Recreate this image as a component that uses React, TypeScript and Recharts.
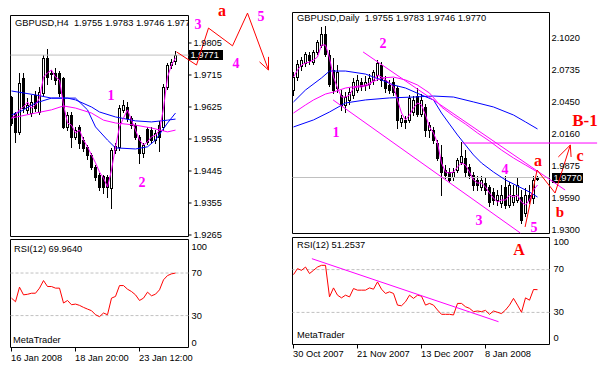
import React from 'react';
import { ComposedChart, Bar, Line, XAxis, YAxis, ReferenceLine, ReferenceArea } from 'recharts';

// ---------------- H4 chart data ----------------
const h4Open = [1.9653,1.9608,1.9555,1.9707,1.9617,1.9608,1.9659,1.9611,1.9665,1.9763,1.9722,1.9720,1.9721,1.9707,1.9569,1.9603,1.9541,1.9569,1.9532,1.9512,1.9490,1.9456,1.9434,1.9431,1.9428,1.9397,1.9504,1.9513,1.9617,1.9625,1.9594,1.9574,1.9541,1.9496,1.9563,1.9560,1.9532,1.9574,1.9569,1.9681,1.9743,1.9755];
const h4High = [1.9655,1.9610,1.9721,1.9721,1.9650,1.9660,1.9670,1.9680,1.9770,1.9788,1.9730,1.9735,1.9727,1.9710,1.9610,1.9610,1.9568,1.9575,1.9540,1.9518,1.9495,1.9462,1.9440,1.9434,1.9435,1.9510,1.9525,1.9630,1.9645,1.9640,1.9600,1.9580,1.9546,1.9525,1.9570,1.9568,1.9560,1.9585,1.9690,1.9750,1.9760,1.9783];
const h4Low = [1.9574,1.9527,1.9550,1.9610,1.9608,1.9600,1.9615,1.9605,1.9660,1.9690,1.9705,1.9690,1.9655,1.9565,1.9560,1.9513,1.9535,1.9510,1.9500,1.9480,1.9450,1.9420,1.9392,1.9383,1.9372,1.9341,1.9495,1.9505,1.9610,1.9585,1.9565,1.9535,1.9468,1.9485,1.9520,1.9525,1.9525,1.9500,1.9560,1.9675,1.9735,1.9746];
const h4Close = [1.9580,1.9555,1.9693,1.9622,1.9631,1.9639,1.9622,1.9667,1.9763,1.9710,1.9718,1.9701,1.9664,1.9569,1.9603,1.9541,1.9560,1.9524,1.9510,1.9490,1.9456,1.9428,1.9400,1.9400,1.9400,1.9504,1.9515,1.9622,1.9631,1.9594,1.9574,1.9541,1.9496,1.9518,1.9527,1.9532,1.9552,1.9541,1.9681,1.9743,1.9752,1.9771];
const h4MaFast = [1.9594,1.9603,1.9617,1.9625,1.9639,1.9622,1.9631,1.9650,1.9709,1.9721,1.9729,1.9709,1.9701,1.9631,1.9580,1.9574,1.9552,1.9560,1.9532,1.9513,1.9490,1.9468,1.9442,1.9425,1.9400,1.9448,1.9513,1.9569,1.9594,1.9617,1.9588,1.9560,1.9532,1.9518,1.9527,1.9541,1.9546,1.9560,1.9622,1.9709,1.9743,1.9763];
const h4MaSlow: [number, number][] = [[0,1.9594],[6,1.9608],[10,1.9617],[13,1.9628],[16,1.9622],[20,1.9608],[23,1.9588],[26,1.9580],[31,1.9574],[35,1.9566],[39,1.9555],[41,1.9560]];
const h4MaBlueLong: [number, number][] = [[0,1.9670],[6,1.9659],[10,1.9650],[14,1.9650],[16,1.9645],[20,1.9625],[22,1.9611],[26,1.9597],[31,1.9586],[35,1.9583],[39,1.9588],[41,1.9591]];
const h4MaBlueMid: [number, number][] = [[0,1.9603],[2,1.9611],[6,1.9636],[10,1.9650],[13,1.9650],[16,1.9650],[19,1.9617],[21,1.9569],[24,1.9532],[26,1.9510],[31,1.9507],[34,1.9513],[36,1.9532],[39,1.9580],[41,1.9608]];
const h4Rsi = [46.4,43,56.7,49.5,50,51,51,55.8,62.9,57.3,57.3,55.8,55.8,41.8,44.2,40.2,40.8,39.6,37.7,36.1,34.6,30.8,29,32.4,30.8,46.4,48,58.2,58.2,54.8,52.6,49.5,44.2,46.4,52,48.6,50.1,54.2,63.6,67.6,69.2,69.96];
const h4PriceTicks = [1.9265,1.9355,1.9445,1.9535,1.9625,1.9715,1.9805];
const h4DateTicks = [0,16,32];
const h4DateLabels = ['16 Jan 2008','18 Jan 20:00','23 Jan 12:00'];
const h4Last = 1.9771;
const h4Wave: [number, number][] = [[41.25,1.9780],[46.25,1.9743],[49.25,1.9847],[55.25,1.9797],[59,1.9889],[64.25,1.9729]];
const h4ArrowHead: [number, number][] = [[62,1.9752],[64.25,1.9729],[64.25,1.9766]];

// ---------------- Daily chart data ----------------
const dOpen = [2.0554,2.0670,2.0769,2.0796,2.0868,2.0805,2.0895,2.0957,2.1056,2.0868,2.0733,2.0572,2.0509,2.0420,2.0465,2.0509,2.0554,2.0626,2.0599,2.0608,2.0644,2.0688,2.0778,2.0644,2.0599,2.0626,2.0572,2.0268,2.0286,2.0286,2.0357,2.0500,2.0339,2.0402,2.0196,2.0196,2.0079,1.9954,1.9837,1.9819,1.9775,1.9837,1.9909,1.9945,1.9864,1.9792,1.9748,1.9685,1.9721,1.9685,1.9640,1.9568,1.9541,1.9685,1.9524,1.9550,1.9568,1.9595,1.9452,1.9613,1.9586,1.9755];
const dHigh = [2.0715,2.0823,2.0850,2.0895,2.0895,2.0912,2.1002,2.1119,2.1128,2.0912,2.0841,2.0778,2.0554,2.0536,2.0572,2.0662,2.0688,2.0662,2.0679,2.0697,2.0733,2.0823,2.0805,2.0679,2.0644,2.0662,2.0590,2.0330,2.0321,2.0509,2.0500,2.0572,2.0518,2.0429,2.0268,2.0223,2.0106,2.0061,1.9882,1.9855,1.9855,1.9945,2.0088,2.0016,1.9891,1.9819,1.9784,1.9784,1.9766,1.9703,1.9676,1.9658,1.9703,1.9784,1.9730,1.9703,1.9766,1.9658,1.9676,1.9703,1.9784,1.9783];
const dLow = [2.0509,2.0644,2.0733,2.0769,2.0787,2.0787,2.0877,2.0939,2.0859,2.0590,2.0527,2.0536,2.0375,2.0357,2.0429,2.0483,2.0536,2.0554,2.0554,2.0572,2.0608,2.0644,2.0590,2.0536,2.0527,2.0509,2.0214,2.0232,2.0214,2.0268,2.0330,2.0321,2.0321,2.0142,2.0133,2.0079,1.9927,1.9613,1.9766,1.9730,1.9748,1.9819,1.9891,1.9784,1.9766,1.9658,1.9658,1.9658,1.9622,1.9515,1.9533,1.9524,1.9506,1.9497,1.9506,1.9524,1.9550,1.9363,1.9425,1.9541,1.9541,1.9746];
const dClose = [2.0670,2.0787,2.0823,2.0877,2.0823,2.0895,2.0984,2.1056,2.0877,2.0608,2.0554,2.0715,2.0420,2.0491,2.0536,2.0626,2.0644,2.0590,2.0626,2.0662,2.0715,2.0796,2.0644,2.0572,2.0554,2.0536,2.0286,2.0304,2.0268,2.0483,2.0465,2.0339,2.0465,2.0196,2.0241,2.0106,1.9945,1.9819,1.9792,1.9748,1.9819,1.9927,1.9963,1.9819,1.9792,1.9703,1.9703,1.9748,1.9658,1.9550,1.9568,1.9613,1.9613,1.9524,1.9703,1.9613,1.9703,1.9390,1.9613,1.9568,1.9748,1.9770];
const dMaFast = [2.0670,2.0733,2.0778,2.0796,2.0805,2.0823,2.0850,2.0957,2.0957,2.0841,2.0670,2.0572,2.0491,2.0491,2.0509,2.0572,2.0581,2.0581,2.0590,2.0599,2.0644,2.0688,2.0670,2.0644,2.0617,2.0581,2.0465,2.0348,2.0286,2.0330,2.0393,2.0438,2.0420,2.0330,2.0223,2.0169,2.0079,1.9900,1.9819,1.9810,1.9819,1.9864,1.9900,1.9882,1.9819,1.9748,1.9721,1.9721,1.9685,1.9631,1.9586,1.9550,1.9568,1.9568,1.9613,1.9595,1.9613,1.9550,1.9524,1.9568,1.9658,1.9703];
const dMaSlow: [number, number][] = [[0,2.0348],[3,2.0420],[5,2.0465],[8,2.0518],[10,2.0536],[13,2.0572],[18,2.0599],[22,2.0662],[25,2.0670],[28,2.0644],[31,2.0599],[34,2.0527],[37,2.0402],[40,2.0321],[43,2.0249],[46,2.0169],[49,2.0097],[52,2.0016],[55,1.9945],[58,1.9882],[61,1.9819]];
const dMaBlueLong: [number, number][] = [[0,2.0223],[5,2.0286],[9,2.0357],[13,2.0438],[18,2.0465],[24,2.0483],[30,2.0491],[35,2.0500],[40,2.0491],[45,2.0447],[50,2.0402],[55,2.0330],[58,2.0268],[61,2.0205]];
const dMaBlueMid: [number, number][] = [[0,2.0447],[3,2.0554],[7,2.0662],[9,2.0724],[13,2.0724],[18,2.0697],[22,2.0644],[25,2.0599],[28,2.0572],[32,2.0509],[35,2.0465],[37,2.0348],[39,2.0249],[41,2.0151],[43,2.0061],[45,1.9972],[47,1.9900],[50,1.9819],[53,1.9748],[56,1.9694],[59,1.9640],[61,1.9595]];
const dRsi = [65.3,70.9,69.3,72.4,66.3,69.3,72.4,74,74,44.5,52.9,46.1,43.6,46.1,44.5,52.3,50.8,50.8,50.8,52.9,51.7,58.5,51.7,47.7,49.2,47.7,36.8,36.2,39.9,46.1,43.1,46.1,45.2,36.8,38.4,36.8,32.2,28.2,28.2,28.2,27.6,38.4,38.4,35.3,33.8,30.7,31.3,30.7,31.9,28.2,31.3,30.1,28.9,32.2,36.8,43.1,36.8,30.1,43.6,41.4,51.4,51.25];
const dPriceTicks = [1.9300,1.9590,1.9875,2.0160,2.0450,2.0735,2.1020];
const dDateTicks = [0,16,32,48];
const dDateLabels = ['30 Oct 2007','21 Nov 2007','13 Dec 2007','8 Jan 2008'];
const dLast = 1.9770;
const dChannelTop: [number, number][] = [[17.4,2.0895],[67.9,1.9658]];
const dChannelBottom: [number, number][] = [[9.9,2.0465],[56.7,1.9273]];
const dLevel: [number, number][] = [[42.2,2.0079],[75.9,2.0079]];
const dWave: [number, number][] = [[57.9,1.9327],[60.9,1.9837],[65.4,1.9631],[69.2,2.0061]];
const dArrowHead: [number, number][] = [[66.2,1.9954],[69.2,2.0061],[69.4,1.9954]];
const dRsiTrend: [number, number][] = [[4.6,80.2],[51.25,21.3]];

const rsiTicks = [0,30,70,100];

// ---------------- helpers ----------------
const FONT = '"Liberation Sans", Arial, sans-serif';
const FS = 9.3;
const MAG = '#ff00ff';
const RED = '#ff0000';
const BLUE = '#0000ff';

function sparse(pairs: [number, number][], i: number) {
  const f = pairs.find((p) => p[0] === i);
  return f ? f[1] : null;
}

function buildRows(o: number[], h: number[], l: number[], c: number[], fast: number[], slow: [number, number][], b1: [number, number][], b2: [number, number][], rsi: number[]) {
  return o.map((v, i) => ({
    i, open: v, high: h[i], low: l[i], close: c[i],
    fast: fast[i], slow: sparse(slow, i), blueLong: sparse(b1, i), blueMid: sparse(b2, i), rsi: rsi[i],
  }));
}

const h4Rows = buildRows(h4Open, h4High, h4Low, h4Close, h4MaFast, h4MaSlow, h4MaBlueLong, h4MaBlueMid, h4Rsi);
const dRows = buildRows(dOpen, dHigh, dLow, dClose, dMaFast, dMaSlow, dMaBlueLong, dMaBlueMid, dRsi);

const Candle = (props: any) => {
  const { x, y, width, height, payload } = props;
  if (x == null || y == null || !payload) return null;
  const top = Math.min(y, y + height);
  const span = Math.abs(height);
  const { open, high, low, close } = payload;
  const toY = (p: number) => (high === low ? top : top + ((high - p) / (high - low)) * span);
  const col = Math.floor(x + width / 2);
  const cx = col + 0.5;
  const yTop = Math.round(top);
  const yBot = Math.round(top + span);
  const bo = Math.round(toY(open));
  const bc = Math.round(toY(close));
  const b1 = Math.min(bo, bc);
  const b2 = Math.max(bo, bc);
  const bull = close >= open;
  return (
    <g>
      <line x1={cx} x2={cx} y1={yTop} y2={yBot + 1} stroke="#000" strokeWidth={1} shapeRendering="crispEdges" />
      {b2 - b1 < 1 ? (
        <line x1={col - 1} x2={col + 2} y1={b1 + 0.5} y2={b1 + 0.5} stroke="#000" strokeWidth={1} shapeRendering="crispEdges" />
      ) : (
        <rect x={col - 0.5} y={b1 + 0.5} width={2} height={b2 - b1} fill={bull ? '#fff' : '#000'} stroke="#000" strokeWidth={1} shapeRendering="crispEdges" />
      )}
    </g>
  );
};

const makeYTick = (fmt: (v: number) => string, shift: Record<string, number>) => (props: any) => {
  const { x, y, payload } = props;
  const v = payload.value;
  return (
    <text x={x} y={y + (shift[String(v)] || 0)} dominantBaseline="central" textAnchor="start" fontSize={FS} fontFamily={FONT} fill="#000">
      {fmt(v)}
    </text>
  );
};

const makeXTick = (ticks: number[], labels: string[], dy: number) => (props: any) => {
  const { x, y, payload } = props;
  const idx = ticks.indexOf(payload.value);
  return (
    <text x={x - 0.5} y={y + dy} dominantBaseline="central" textAnchor="start" fontSize={FS} fontFamily={FONT} fill="#000">
      {idx >= 0 ? labels[idx] : ''}
    </text>
  );
};

const priceTag = (text: string, w: number, dx: number) => (props: any) => {
  const vb = props.viewBox || {};
  const x0 = (vb.x || 0) + (vb.width || 0) + dx;
  const yy = Math.round(vb.y || 0);
  return (
    <g>
      <rect x={x0} y={yy - 5} width={w} height={10} fill="#000" />
      <text x={x0 + 1.5} y={yy} dominantBaseline="central" fontSize={FS} fontFamily={FONT} fill="#fff">{text}</text>
    </g>
  );
};

const segLines = (pts: [number, number][], color: string, key: string) =>
  pts.slice(1).map((p, k) => (
    <ReferenceLine
      key={key + k}
      segment={[{ x: pts[k][0], y: pts[k][1] }, { x: p[0], y: p[1] }]}
      stroke={color}
      strokeWidth={1}
      ifOverflow="visible"
    />
  ));

const Txt = ({ x, y, children, style }: any) => (
  <div style={{ position: 'absolute', left: x, top: y, transform: 'translateY(-50%)', fontFamily: FONT, fontSize: FS, lineHeight: 1, whiteSpace: 'pre', color: '#000', ...style }}>
    {children}
  </div>
);

const Note = ({ x, y, text, color, size }: any) => (
  <div style={{ position: 'absolute', left: x, top: y, transform: 'translate(-50%,-50%)', fontFamily: '"Liberation Serif", "Times New Roman", serif', fontWeight: 'bold', fontSize: size, lineHeight: 1, color, whiteSpace: 'nowrap' }}>
    {text}
  </div>
);

const H4_X: [number, number] = [-0.25, 44.25];
const H4_Y: [number, number] = [1.926078, 1.988234];
const D_X: [number, number] = [-0.25, 64];
const D_Y: [number, number] = [1.926834, 2.12485];

export default function App() {
  return (
    <div style={{ position: 'absolute', left: 0, top: 0, width: 600, height: 371, background: '#fff', overflow: 'hidden' }}>
      {/* H4 main */}
      <div style={{ position: 'absolute', left: 0, top: 0 }}>
        <ComposedChart width={280} height={240} data={h4Rows} margin={{ top: 15.5, left: 10.5, right: 51.5, bottom: 3.5 }}>
          <XAxis type="number" dataKey="i" domain={H4_X} hide allowDataOverflow />
          <YAxis orientation="right" type="number" domain={H4_Y} ticks={h4PriceTicks} interval={0} width={40} axisLine={false}
            tickLine={{ stroke: '#000' }} tickSize={3} tickMargin={2} allowDataOverflow
            tick={makeYTick((v) => v.toFixed(4), {})} />
          <ReferenceArea x1={H4_X[0]} x2={H4_X[1]} y1={H4_Y[0]} y2={H4_Y[1]} fill="none" fillOpacity={0} stroke="#000" strokeWidth={1} ifOverflow="visible" />
          <ReferenceLine y={h4Last} stroke="#c0c0c0" strokeWidth={1} label={priceTag('1.9771', 34, 0.5)} />
          <Bar dataKey={(d: any) => [d.low, d.high]} shape={<Candle />} barSize={3} isAnimationActive={false} />
          <Line dataKey="blueLong" stroke={BLUE} strokeWidth={1} dot={false} connectNulls isAnimationActive={false} />
          <Line dataKey="blueMid" stroke={BLUE} strokeWidth={1} dot={false} connectNulls isAnimationActive={false} />
          <Line dataKey="slow" stroke={MAG} strokeWidth={1} dot={false} connectNulls isAnimationActive={false} />
          <Line dataKey="fast" stroke={MAG} strokeWidth={1} dot={false} connectNulls isAnimationActive={false} />
          {segLines(h4Wave, RED, 'h4w')}
          {segLines(h4ArrowHead, RED, 'h4a')}
        </ComposedChart>
      </div>

      {/* H4 RSI */}
      <div style={{ position: 'absolute', left: 0, top: 236 }}>
        <ComposedChart width={280} height={135} data={h4Rows} margin={{ top: 3.5, left: 10.5, right: 51.5, bottom: 3.5 }}>
          <XAxis type="number" dataKey="i" domain={H4_X} ticks={h4DateTicks} interval={0} axisLine={false} height={20}
            tickLine={{ stroke: '#000' }} tickSize={4} tickMargin={2} allowDataOverflow
            tick={makeXTick(h4DateTicks, h4DateLabels, 4.8)} />
          <YAxis orientation="right" type="number" domain={[0, 101.5]} ticks={rsiTicks} interval={0} width={40} axisLine={false}
            tickLine={false} tickSize={0} tickMargin={3} allowDataOverflow
            tick={makeYTick((v) => String(v), { '100': 6, '0': -5 })} />
          <ReferenceArea x1={H4_X[0]} x2={H4_X[1]} y1={0} y2={101.5} fill="none" fillOpacity={0} stroke="#000" strokeWidth={1} ifOverflow="visible" />
          <ReferenceLine y={70} stroke="#c0c0c0" strokeDasharray="3 2" />
          <ReferenceLine y={30} stroke="#c0c0c0" strokeDasharray="3 2" />
          <Line dataKey="rsi" stroke={RED} strokeWidth={1} dot={false} isAnimationActive={false} />
        </ComposedChart>
      </div>

      {/* Daily main */}
      <div style={{ position: 'absolute', left: 280, top: 0 }}>
        <ComposedChart width={320} height={240} data={dRows} margin={{ top: 12.5, left: 12.5, right: 10.5, bottom: 6.5 }}>
          <XAxis type="number" dataKey="i" domain={D_X} hide allowDataOverflow />
          <YAxis orientation="right" type="number" domain={D_Y} ticks={dPriceTicks} interval={0} width={40} axisLine={false}
            tickLine={false} tickSize={0} tickMargin={2} allowDataOverflow
            tick={makeYTick((v) => v.toFixed(4), {})} />
          <ReferenceArea x1={D_X[0]} x2={D_X[1]} y1={D_Y[0]} y2={D_Y[1]} fill="none" fillOpacity={0} stroke="#000" strokeWidth={1} ifOverflow="visible" />
          <ReferenceLine y={dLast} stroke="#c0c0c0" strokeWidth={1} label={priceTag('1.9770', 31, 2.5)} />
          <Bar dataKey={(d: any) => [d.low, d.high]} shape={<Candle />} barSize={3} isAnimationActive={false} />
          <Line dataKey="blueLong" stroke={BLUE} strokeWidth={1} dot={false} connectNulls isAnimationActive={false} />
          <Line dataKey="blueMid" stroke={BLUE} strokeWidth={1} dot={false} connectNulls isAnimationActive={false} />
          <Line dataKey="slow" stroke={MAG} strokeWidth={1} dot={false} connectNulls isAnimationActive={false} />
          <Line dataKey="fast" stroke={MAG} strokeWidth={1} dot={false} connectNulls isAnimationActive={false} />
          {segLines(dChannelTop, MAG, 'ct')}
          {segLines(dChannelBottom, MAG, 'cb')}
          {segLines(dLevel, MAG, 'lv')}
          {segLines(dWave, RED, 'dw')}
          {segLines(dArrowHead, RED, 'da')}
        </ComposedChart>
      </div>

      {/* Daily RSI */}
      <div style={{ position: 'absolute', left: 280, top: 236 }}>
        <ComposedChart width={320} height={135} data={dRows} margin={{ top: 1.5, left: 12.5, right: 10.5, bottom: 6.5 }}>
          <XAxis type="number" dataKey="i" domain={D_X} ticks={dDateTicks} interval={0} axisLine={false} height={20}
            tickLine={{ stroke: '#000' }} tickSize={4} tickMargin={2} allowDataOverflow
            tick={makeXTick(dDateTicks, dDateLabels, 3.8)} />
          <YAxis orientation="right" type="number" domain={[0, 100]} ticks={rsiTicks} interval={0} width={40} axisLine={false}
            tickLine={false} tickSize={0} tickMargin={4} allowDataOverflow
            tick={makeYTick((v) => String(v), { '100': 4, '0': -6.5, '70': -1 })} />
          <ReferenceArea x1={D_X[0]} x2={D_X[1]} y1={0} y2={100} fill="none" fillOpacity={0} stroke="#000" strokeWidth={1} ifOverflow="visible" />
          <ReferenceLine y={70} stroke="#c0c0c0" strokeDasharray="3 2" />
          <ReferenceLine y={30} stroke="#c0c0c0" strokeDasharray="3 2" />
          <Line dataKey="rsi" stroke={RED} strokeWidth={1} dot={false} isAnimationActive={false} />
          {segLines(dRsiTrend, MAG, 'rt')}
        </ComposedChart>
      </div>

      {/* panel captions */}
      <div style={{ position: 'absolute', left: 15, top: 17, width: 173, height: 14, overflow: 'hidden' }}>
        <Txt x={0} y={7}>{'GBPUSD,H4  1.9755 1.9783 1.9746 1.9771'}</Txt>
      </div>
      <Txt x={297} y={19}>{'GBPUSD,Daily  1.9755 1.9783 1.9746 1.9770'}</Txt>
      <Txt x={14} y={250}>{'RSI(12) 69.9640'}</Txt>
      <Txt x={297} y={246}>{'RSI(12) 51.2537'}</Txt>
      <Txt x={13} y={341}>MetaTrader</Txt>
      <Txt x={297} y={336}>MetaTrader</Txt>

      {/* wave annotations */}
      <Note x={111} y={96} text="1" color={MAG} size={14} />
      <Note x={142} y={183} text="2" color={MAG} size={14} />
      <Note x={198} y={25} text="3" color={MAG} size={14} />
      <Note x={236} y={64} text="4" color={MAG} size={14} />
      <Note x={261} y={17} text="5" color={MAG} size={14} />
      <Note x={222} y={11} text="a" color={RED} size={16} />

      <Note x={336} y={133} text="1" color={MAG} size={14} />
      <Note x={383} y={44} text="2" color={MAG} size={14} />
      <Note x={479} y={221} text="3" color={MAG} size={14} />
      <Note x={505} y={170} text="4" color={MAG} size={14} />
      <Note x={534} y={228} text="5" color={MAG} size={14} />
      <Note x={538} y={161} text="a" color={RED} size={16} />
      <Note x={560} y={212} text="b" color={RED} size={15} />
      <Note x={580} y={156} text="c" color={RED} size={16} />
      <Note x={585} y={120} text="B-1" color={RED} size={17} />
      <Note x={519} y={250} text="A" color={RED} size={16} />
    </div>
  );
}
